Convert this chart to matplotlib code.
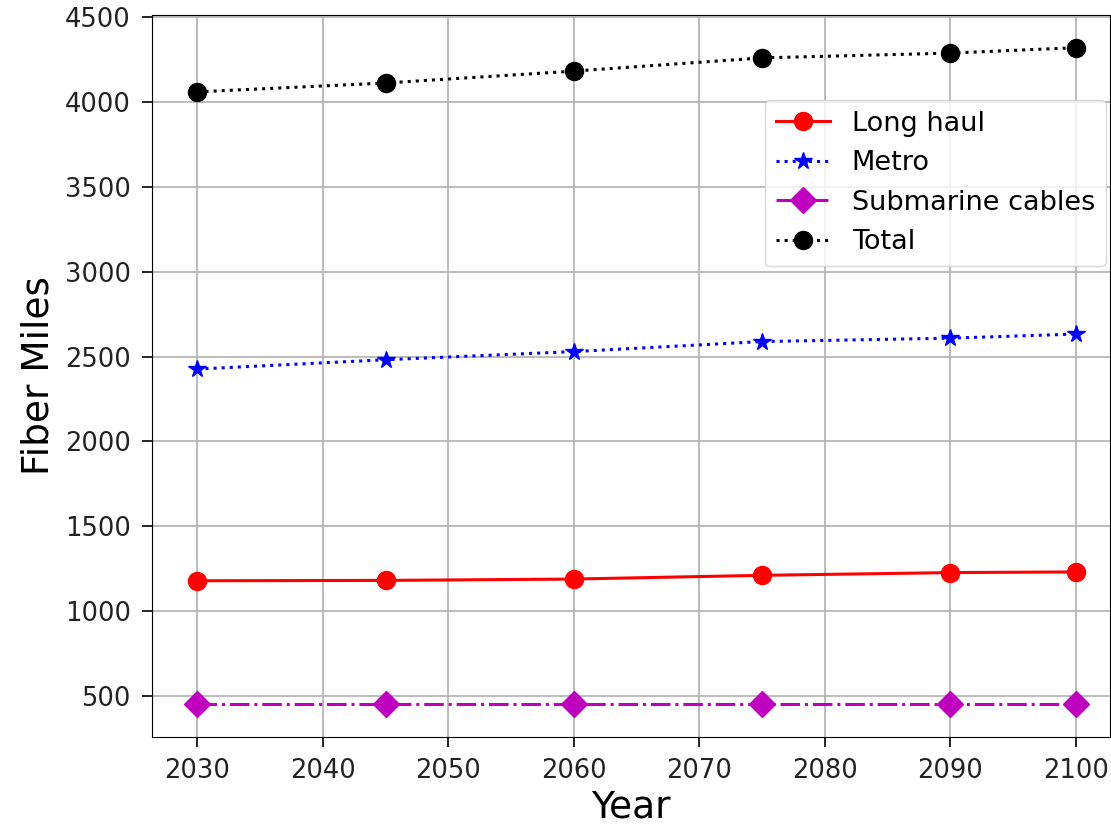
import matplotlib
matplotlib.use("Agg")
import matplotlib.pyplot as plt

years = [2030, 2045, 2060, 2075, 2090, 2100]
long_haul = [1180, 1182, 1190, 1212, 1228, 1232]
metro = [2426, 2481, 2529, 2588, 2608, 2632]
submarine = [455, 455, 455, 455, 455, 455]
total = [4058, 4110, 4180, 4258, 4286, 4318]

fig, ax = plt.subplots(figsize=(11.11, 8.25), dpi=100)
fig.subplots_adjust(left=0.137, right=0.999, bottom=0.107, top=0.982)

ax.plot(years, long_haul, "r-o", lw=2.2, ms=13, label="Long haul")
ax.plot(years, metro, "b:*", lw=2.2, ms=13, label="Metro")
ax.plot(years, submarine, "m-.D", lw=2.2, ms=13, label="Submarine cables")
ax.plot(years, total, "k:o", lw=2.2, ms=13, label="Total")

ax.set_xlim(2026.4, 2102.7)
ax.set_xlabel("Year", fontsize=27, labelpad=4)
ax.set_ylabel("Fiber Miles", fontsize=27, labelpad=6)
ax.tick_params(labelsize=18.5, length=7.5, width=1.2, pad=8, labelcolor="#222222")
ax.grid(True, color="#b0b0b0", lw=1.2)
ax.legend(loc="upper right", bbox_to_anchor=(0.9958, 0.882), borderaxespad=0,
          fontsize=19.5, framealpha=0.8)

fig.savefig("out.png")
